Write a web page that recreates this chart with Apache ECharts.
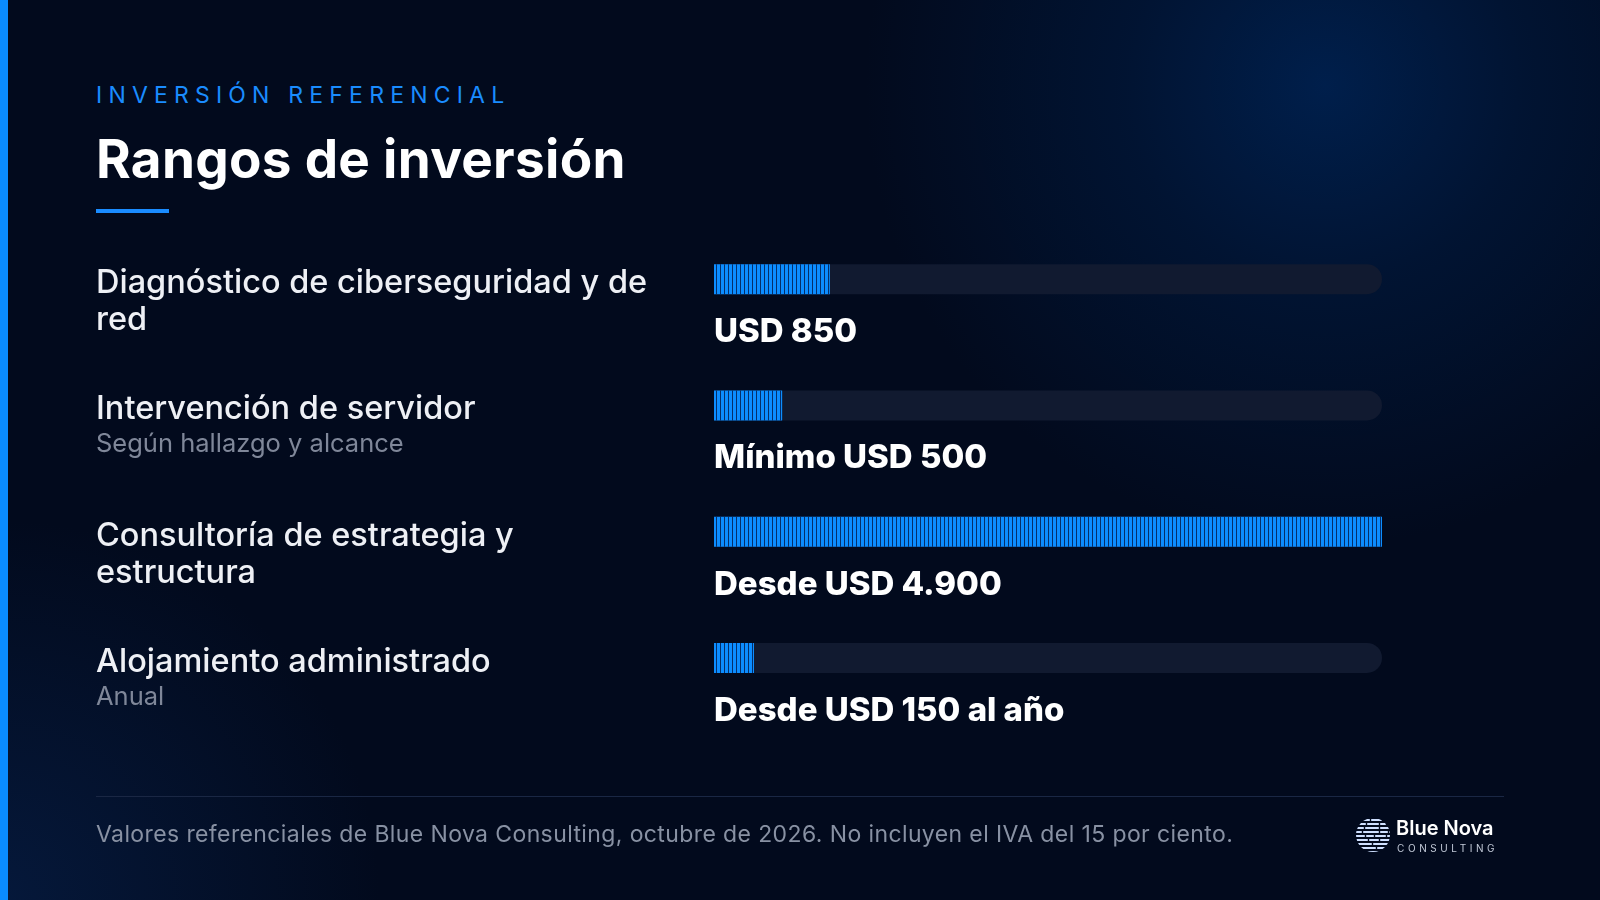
<!DOCTYPE html>
<html>
<head>
<meta charset="utf-8">
<script src="https://cdn.jsdelivr.net/npm/echarts@6/dist/echarts.min.js"></script>
<style>
  body { margin: 0; background: #020817; }
  #slide {
    position: relative; width: 1600px; height: 900px; overflow: hidden;
    font-family: Inter, "Noto Sans", sans-serif;
    background:
      radial-gradient(circle at 1325px 85px, rgba(0, 32, 78, 0.95) 0px, rgba(0, 26, 64, 0.6) 200px, rgba(2, 10, 30, 0) 460px),
      radial-gradient(circle at 0px 900px, rgba(6, 28, 66, 0.8) 0px, rgba(3, 12, 32, 0) 380px),
      #020a1d;
  }
  .stripe { position: absolute; left: 0; top: 0; width: 8px; height: 900px; background: #0a8cff; }
  .eyebrow { position: absolute; left: 96px; top: 80px; font-size: 23px; font-weight: 400; letter-spacing: 6.2px; color: #1a8cff; line-height: 30px; }
  .title { position: absolute; left: 96px; top: 127px; font-size: 53px; font-weight: 700; color: #ffffff; line-height: 64px; letter-spacing: 0.3px; }
  .accent { position: absolute; left: 96px; top: 209px; width: 73px; height: 4px; background: #1a8cff; }
  #chart { position: absolute; left: 0; top: 0; width: 1600px; height: 900px; }
  .divider { position: absolute; left: 96px; top: 796px; width: 1408px; height: 1px; background: #1a2744; }
  .note { position: absolute; left: 96px; top: 820px; font-size: 23px; color: #8891a3; line-height: 28px; letter-spacing: 0.39px; }
  .logo { position: absolute; left: 1355px; top: 815px; width: 150px; height: 40px; }
  .logo svg { position: absolute; left: 0; top: 2px; }
  .logo .name { position: absolute; left: 41px; top: 0px; font-size: 20px; font-weight: 600; color: #ffffff; line-height: 26px; }
  .logo .sub { position: absolute; left: 42px; top: 27px; font-size: 10px; letter-spacing: 3.6px; color: #c3cad8; line-height: 12px; }
</style>
</head>
<body>
<div id="slide">
  <div class="stripe"></div>
  <div class="eyebrow">INVERSIÓN REFERENCIAL</div>
  <div class="title">Rangos de inversión</div>
  <div class="accent"></div>
  <div id="chart"></div>
  <div class="divider"></div>
  <div class="note">Valores referenciales de Blue Nova Consulting, octubre de 2026. No incluyen el IVA del 15 por ciento.</div>
  <div class="logo">
    <svg width="36" height="36" viewBox="0 0 36 36">
      <defs><clipPath id="globe"><circle cx="18" cy="18" r="17"/></clipPath></defs>
      <g clip-path="url(#globe)" stroke="#cfe0ff" stroke-width="2.2" stroke-linecap="round">
        <line x1="0" y1="3" x2="26" y2="3" stroke-dasharray="14 3"/>
        <line x1="0" y1="7" x2="30" y2="7" stroke-dasharray="10 3"/>
        <line x1="0" y1="11" x2="34" y2="11" stroke-dasharray="8 3 12 3"/>
        <line x1="0" y1="15" x2="36" y2="15" stroke-dasharray="6 3 14 3"/>
        <line x1="0" y1="19" x2="36" y2="19" stroke-dasharray="9 3 6 3"/>
        <line x1="0" y1="23" x2="36" y2="23" stroke-dasharray="12 3 8 3"/>
        <line x1="0" y1="27" x2="34" y2="27" stroke-dasharray="16 3"/>
        <line x1="0" y1="31" x2="30" y2="31" stroke-dasharray="20 3"/>
        <line x1="0" y1="35" x2="26" y2="35"/>
      </g>
    </svg>
    <div class="name">Blue Nova</div>
    <div class="sub">CONSULTING</div>
  </div>
</div>
<script>
// services shown in the slide
const services = [
  'Diagnóstico de ciberseguridad y de\nred',
  'Intervención de servidor',
  'Consultoría de estrategia y\nestructura',
  'Alojamiento administrado'
]
const notes = ['', 'Según hallazgo y alcance', '', 'Anual']
// investment in USD
const amounts = [850, 500, 4900, 150]
const amountLabels = ['USD 850', 'Mínimo USD 500', 'Desde USD 4.900', 'Desde USD 150 al año']

const chart = echarts.init(document.getElementById('chart'))

chart.setOption({
  animation: false,
  grid: {
    left: 714,
    top: 216,
    width: 668,
    height: 505
  },
  xAxis: {
    type: 'value',
    min: 0,
    max: 4900,
    show: false
  },
  yAxis: {
    type: 'category',
    inverse: true,
    data: services,
    axisLine: { show: false },
    axisTick: { show: false },
    axisLabel: {
      align: 'left',
      verticalAlign: 'middle',
      margin: 618,
      formatter: (value, idx) => {
        const lines = value.split('\n')
        // spacer on top keeps the first line level with the bar
        let out = notes[idx] ? '{spNote| }\n' : (lines.length > 1 ? '{sp| }\n' : '')
        out += lines.map(l => '{main|' + l + '}').join('\n')
        if (notes[idx]) out += '\n{note|' + notes[idx] + '}'
        return out
      },
      rich: {
        sp: { fontSize: 4, lineHeight: 46 },
        spNote: { fontSize: 4, lineHeight: 41 },
        main: { fontFamily: 'Inter', fontSize: 32.5, fontWeight: 500, color: '#eef0f5', lineHeight: 37 },
        note: { fontFamily: 'Inter', fontSize: 25.5, fontWeight: 400, color: '#7f8799', lineHeight: 33 }
      }
    }
  },
  series: [
    {
      type: 'bar',
      data: amounts,
      barWidth: 30,
      barMinHeight: 40,
      showBackground: true,
      backgroundStyle: {
        color: '#111a30',
        borderRadius: [0, 15, 15, 0]
      },
      itemStyle: {
        color: '#0c8dff',
        decal: {
          symbol: 'rect',
          symbolSize: 1,
          dashArrayX: [1, 3],
          dashArrayY: [2, 0],
          rotation: 0,
          color: 'rgba(4, 30, 80, 0.85)'
        }
      },
      label: {
        show: true,
        position: [0, 68],
        align: 'left',
        verticalAlign: 'middle',
        fontFamily: 'Inter',
        fontSize: 33,
        fontWeight: 800,
        color: '#ffffff',
        formatter: p => amountLabels[p.dataIndex]
      }
    }
  ]
})
</script>
</body>
</html>
